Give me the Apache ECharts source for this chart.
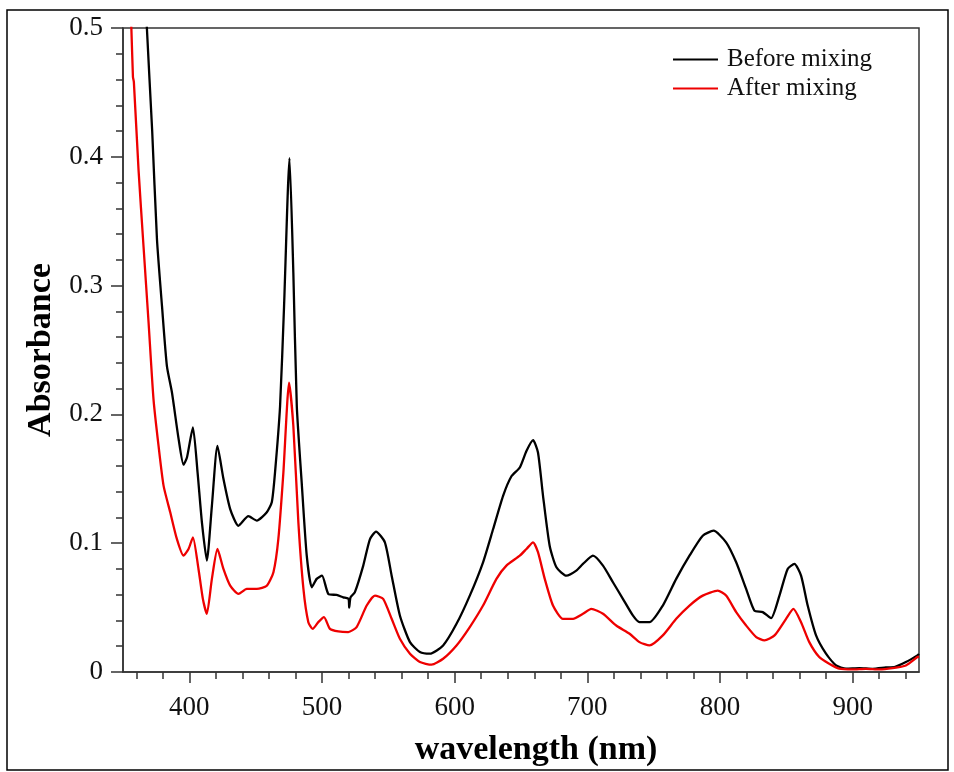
<!DOCTYPE html>
<html>
<head>
<meta charset="utf-8">
<script src="https://cdn.jsdelivr.net/npm/echarts@6/dist/echarts.min.js"></script>
<style>html,body{margin:0;padding:0;background:#fff}#c{width:954px;height:772px}</style>
</head>
<body>
<div id="c"></div>
<script>
const seriesNames = ['Before mixing', 'After mixing'];
const xMajorTicks = [400, 500, 600, 700, 800, 900];
const xMinorTicks = [360, 380, 420, 440, 460, 480, 520, 540, 560, 580, 620, 640, 660, 680, 720, 740, 760, 780, 820, 840, 860, 880, 920, 940];

const beforeX = [350,360,365,368,372,375.6,379.4,383.1,386.9,391.9,395.6,398.2,402.7,406.2,409.5,413.2,417,421.2,425.7,430.8,437,444.5,450.9,458.4,462.2,464.6,468.4,471.4,475.5,478.4,481,484.7,488.5,492.3,496,500,504.8,511,516,520,520.5,521.5,524.8,531.1,536.1,540.7,547.4,552.5,558.7,566.3,573.8,581.3,591.3,601.4,611.4,621.4,629,636.5,642.8,649.1,654.1,659.1,662.8,666.6,671.6,676.7,684.2,691.7,696.7,704.2,711.8,719.3,726.8,734.3,739.3,746.9,756.9,767,777,787,795.1,804.6,812.2,819.7,825.9,832.2,838.5,844.8,851,856.1,861.1,866.1,872.4,879.9,887.5,895,905,915,925,932,940.1,948.8,950];
const beforeY = [0.95,0.72,0.58,0.5,0.42,0.336,0.284,0.2375,0.217,0.181,0.161,0.1665,0.19,0.155,0.116,0.0865,0.129,0.1755,0.15,0.1265,0.1135,0.121,0.1175,0.124,0.132,0.155,0.2065,0.284,0.399,0.31,0.2065,0.147,0.0903,0.0658,0.0723,0.0748,0.0606,0.0598,0.058,0.0568,0.050,0.058,0.062,0.0826,0.103,0.109,0.1007,0.0748,0.0439,0.0232,0.0155,0.0142,0.0206,0.0374,0.0593,0.0852,0.111,0.1368,0.152,0.1588,0.1716,0.180,0.1704,0.1368,0.098,0.0813,0.0748,0.0787,0.0839,0.0903,0.0826,0.0697,0.0568,0.0439,0.0387,0.0387,0.0516,0.0723,0.0903,0.1058,0.1097,0.1007,0.0852,0.0645,0.0477,0.0465,0.0418,0.0593,0.080,0.0839,0.0748,0.0516,0.0284,0.0142,0.0051,0.0026,0.003,0.0025,0.0035,0.004,0.0077,0.0129,0.014];

const afterX = [350,353,356.3,357.5,358.2,361.7,365.5,369.3,373,376.8,380.6,385.6,390.6,395.6,399.4,402.7,406.9,410.2,413.2,417,421.2,425.7,430.8,437,443.3,450.9,458.4,463.4,467.1,470.9,475.2,478.4,482.2,486,489.7,493,497.2,501.5,506,512.3,519.8,526.1,533.7,539.9,546.1,552.5,558.7,566.3,573.8,582.6,591.3,601.4,611.4,621.4,631.5,639,649.1,654.1,659.1,662.8,667.9,674.1,681.6,689.2,696.7,703,711.8,721.8,731.9,739.3,746.9,756.9,767,777,787,798.3,804.6,812.2,819.7,827.3,833.5,841.1,849.8,855.3,861.1,867.3,874.8,882.3,889.8,900,910,920,930,940.1,948.8,950];
const afterY = [0.7,0.58,0.5,0.462,0.458,0.39,0.33,0.271,0.2117,0.1755,0.1445,0.124,0.1033,0.0903,0.0955,0.1046,0.080,0.0568,0.0452,0.0723,0.0955,0.080,0.067,0.0606,0.0645,0.0645,0.067,0.0775,0.1033,0.155,0.2246,0.191,0.116,0.0645,0.0387,0.0335,0.0387,0.0426,0.0335,0.0315,0.031,0.0349,0.0516,0.0593,0.0568,0.0413,0.0258,0.0142,0.0077,0.0057,0.0103,0.0206,0.0349,0.0516,0.0723,0.0826,0.0903,0.0955,0.1007,0.093,0.0723,0.0516,0.0413,0.0413,0.0452,0.049,0.0452,0.0361,0.0297,0.0232,0.0206,0.0284,0.0413,0.0516,0.0593,0.0632,0.0593,0.0465,0.0361,0.0271,0.0245,0.0284,0.0413,0.049,0.0387,0.0232,0.0116,0.0064,0.0026,0.002,0.0025,0.002,0.003,0.0051,0.0116,0.012];

const FONT = '"Liberation Serif", "Times New Roman", serif';
const pair = (xs, ys) => xs.map((x, i) => [x, ys[i]]);

const chart = echarts.init(document.getElementById('c'), null, {renderer: 'canvas'});
chart.setOption({
  animation: false,
  backgroundColor: '#fff',
  graphic: [{
    type: 'rect', shape: {x: 7, y: 10, width: 941, height: 760},
    style: {fill: 'none', stroke: '#000', lineWidth: 1.5}, z: 0
  }],
  grid: {left: 123, top: 28, right: 35, bottom: 99, show: true, borderColor: '#333', borderWidth: 1.5, backgroundColor: 'transparent'},
  legend: {
    orient: 'vertical', left: 668, top: 42, icon: 'rect', itemWidth: 45, itemHeight: 2, itemGap: 4,
    textStyle: {fontFamily: FONT, fontSize: 25, color: '#111', padding: [0, 0, 0, 4]},
    data: seriesNames
  },
  xAxis: [{
    type: 'value', min: 350, max: 950, position: 'bottom',
    name: 'wavelength (nm)', nameLocation: 'middle', nameGap: 61,
    nameTextStyle: {fontFamily: FONT, fontSize: 34, fontWeight: 'bold', color: '#000', padding: [0, 0, 0, 30]},
    axisLine: {show: true, lineStyle: {color: '#333', width: 1.5}},
    axisTick: {show: true, inside: false, length: 11, customValues: xMajorTicks, lineStyle: {color: '#333', width: 1.5}},
    axisLabel: {show: true, customValues: xMajorTicks, margin: 22, fontFamily: FONT, fontSize: 27, color: '#111'},
    splitLine: {show: false}
  }, {
    type: 'value', min: 350, max: 950, position: 'bottom', offset: 0,
    axisLine: {show: false},
    axisTick: {show: true, inside: false, length: 7, customValues: xMinorTicks, lineStyle: {color: '#333', width: 1.5}},
    axisLabel: {show: false},
    splitLine: {show: false}
  }],
  yAxis: {
    type: 'value', min: 0, max: 0.5, interval: 0.1,
    name: 'Absorbance', nameLocation: 'middle', nameGap: 63, nameRotate: 90,
    nameTextStyle: {fontFamily: FONT, fontSize: 34, fontWeight: 'bold', color: '#000'},
    axisLine: {show: true, lineStyle: {color: '#333', width: 1.5}},
    axisTick: {show: true, inside: false, length: 12, lineStyle: {color: '#333', width: 1.5}},
    minorTick: {show: true, splitNumber: 5, length: 7, lineStyle: {color: '#333', width: 1.5}},
    axisLabel: {margin: 20, fontFamily: FONT, fontSize: 27, color: '#111'},
    splitLine: {show: false}
  },
  series: [{
    name: seriesNames[0], type: 'line', xAxisIndex: 0, data: pair(beforeX, beforeY),
    showSymbol: false, symbol: 'none', clip: true, smooth: 0.2,
    lineStyle: {color: '#000', width: 2.3}, itemStyle: {color: '#000'}
  }, {
    name: seriesNames[1], type: 'line', xAxisIndex: 0, data: pair(afterX, afterY),
    showSymbol: false, symbol: 'none', clip: true, smooth: 0.2,
    lineStyle: {color: '#ee0000', width: 2.3}, itemStyle: {color: '#ee0000'}
  }]
});
</script>
</body>
</html>
